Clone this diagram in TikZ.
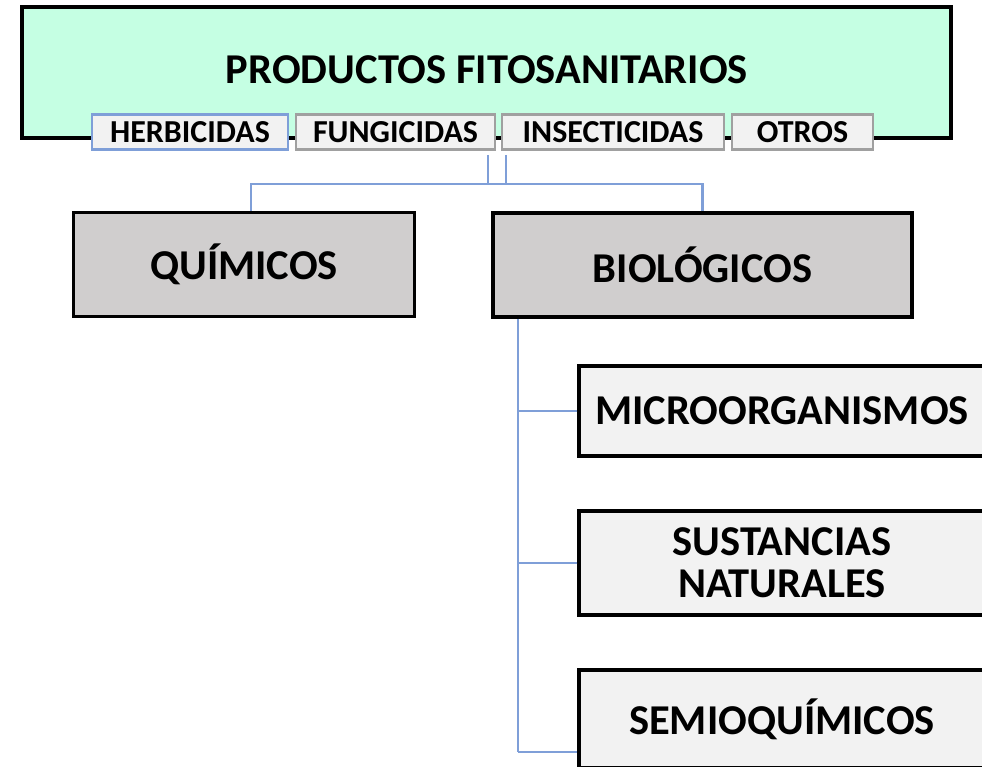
\documentclass[tikz,border=0pt]{standalone}
\usepackage{fontspec}
\setmainfont{Carlito}
\definecolor{mint}{HTML}{C5FFE3}
\definecolor{lgray}{HTML}{F2F2F2}
\definecolor{mgray}{HTML}{D0CECE}
\definecolor{bline}{HTML}{7F9FD8}
\definecolor{bord}{HTML}{A0A0A0}
\tikzset{
  mainbox/.style={draw=black, line width=3.5pt, rectangle, inner sep=0pt, align=center, font=\bfseries\fontsize{42.5}{42}\selectfont},
  tagbox/.style={draw=bord, fill=lgray, line width=2.5pt, rectangle, inner sep=0pt, font=\bfseries\fontsize{32}{36}\selectfont, minimum height=35pt},
  conn/.style={draw=bline, line width=2.5pt}
}
\begin{document}
\begin{tikzpicture}[x=1pt,y=-1pt]
\useasboundingbox (0,0) rectangle (982,766);
\clip (0,0) rectangle (982,766);
\node[mainbox, fill=mint, minimum width=929pt, minimum height=131pt] (top) at (486.5,72.5) {};
\node[font=\bfseries\fontsize{42.5}{46}\selectfont] (title) at (487,70) {PRODUCTOS FITOSANITARIOS};
\node[tagbox, draw=bline, minimum width=196pt] (herb) at (190,132) {HERBICIDAS};
\node[tagbox, minimum width=199pt] (fung) at (395.5,132) {FUNGICIDAS};
\node[tagbox, minimum width=222pt] (inse) at (613,132) {INSECTICIDAS};
\node[tagbox, minimum width=141pt] (otros) at (802.5,132) {OTROS};
\node[mainbox, fill=mgray, minimum width=341pt, minimum height=104pt] (quim) at (244,264.5) {QUÍMICOS};
\node[mainbox, fill=mgray, minimum width=419pt, minimum height=104pt] (bio) at (702.5,265) {BIOLÓGICOS};
\node[mainbox, fill=lgray, minimum width=406pt, minimum height=90pt] (micro) at (782,411) {MICROORGANISMOS};
\node[mainbox, fill=lgray, minimum width=406pt, minimum height=104pt] (sust) at (782,563) {SUSTANCIAS\\NATURALES};
\node[mainbox, fill=lgray, minimum width=406pt, minimum height=98pt] (semi) at (782,719) {SEMIOQUÍMICOS};
\coordinate (hj) at (488,184);
\coordinate (hk) at (506,184);
\coordinate (bv) at (518,752);
\draw[conn] ([yshift=-4pt]hj |- fung.south) -- (hj);
\draw[conn] ([yshift=-4pt]hk |- inse.south) -- (hk);
\draw[conn] ([xshift=7pt]quim.north) |- (hj) -- (hk) -| (bio.north);
\draw[conn] (bv |- bio.south) -- (bv);
\draw[conn] (micro.west) -- (micro.west -| bv);
\draw[conn] (sust.west) -- (sust.west -| bv);
\draw[conn] (bv) -- (bv -| semi.west);
\end{tikzpicture}
\end{document}
